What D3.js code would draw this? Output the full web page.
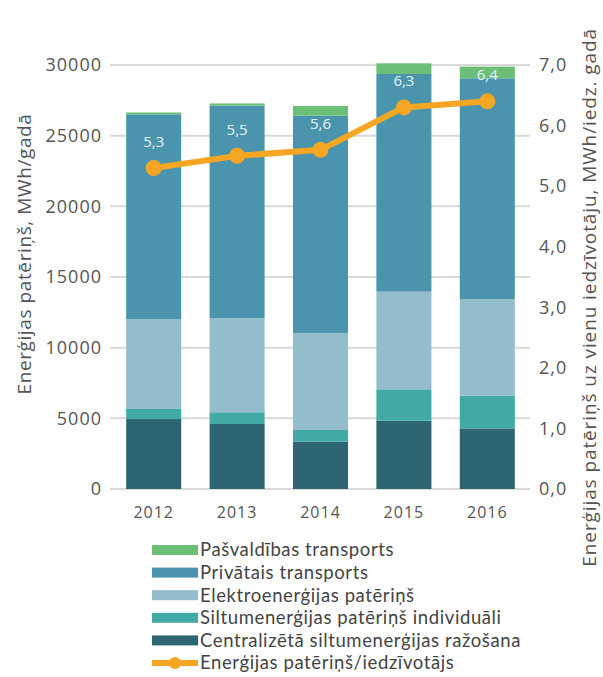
<!DOCTYPE html>
<html>
<head>
<meta charset="utf-8">
<script src="https://cdn.jsdelivr.net/npm/d3@7"></script>
<style>
  html, body { margin: 0; padding: 0; background: #fff; }
  svg { display: block; font-family: "Open Sans", "DejaVu Sans", sans-serif; }
</style>
</head>
<body>
<svg id="chart" width="603" height="677"></svg>
<script>
// Years on the category axis
const years = ["2012", "2013", "2014", "2015", "2016"];

// Stacked energy consumption components, MWh per year (bottom to top)
const centralizetaSiltum = [4950, 4600, 3350, 4835, 4290];
const siltumIndividuali  = [750, 830, 825, 2220, 2310];
const elektroenergija    = [6330, 6650, 6840, 6910, 6820];
const privataisTransp    = [14480, 15040, 15400, 15400, 15640];
const pasvaldibasTransp  = [130, 160, 690, 755, 825];

// Consumption per inhabitant, MWh per inhabitant per year
const perInhabitant = [5.3, 5.5, 5.6, 6.3, 6.4];

// Axis ticks
const leftTicks  = [0, 5000, 10000, 15000, 20000, 25000, 30000];
const rightTicks = [0, 1, 2, 3, 4, 5, 6, 7];

const seriesNames = [
  "Centralizētā siltumenerģijas ražošana",
  "Siltumenerģijas patēriņš individuāli",
  "Elektroenerģijas patēriņš",
  "Privātais transports",
  "Pašvaldības transports"
];
const seriesColors = ["#2d6672", "#41aaa4", "#93bdca", "#4a95ad", "#6cbf76"];
const lineName = "Enerģijas patēriņš/iedzīvotājs";
const lineColor = "#f5a623";

const svg = d3.select("#chart");

const plot = { left: 112, right: 529, top: 65, bottom: 489 };

const x = d3.scaleBand().domain(years).range([plot.left, plot.right]).paddingInner(0.34).paddingOuter(0.17);
const yL = d3.scaleLinear().domain([0, 30000]).range([plot.bottom, plot.top]);
const yR = d3.scaleLinear().domain([0, 7]).range([plot.bottom, plot.top]);

// Horizontal gridlines
svg.append("g")
  .selectAll("line")
  .data(leftTicks)
  .join("line")
  .attr("x1", 110).attr("x2", 530)
  .attr("y1", d => yL(d)).attr("y2", d => yL(d))
  .attr("stroke", "#d9d9d9").attr("stroke-width", 2);

// Left axis labels
const leftAxis = d3.axisLeft(yL).tickValues(leftTicks).tickSize(0).tickPadding(0).tickFormat(d3.format("d"));
const gL = svg.append("g").attr("transform", "translate(102,0)").call(leftAxis);
gL.select(".domain").remove();
gL.selectAll("text").attr("font-size", 18).attr("fill", "#555").attr("letter-spacing", "1px").attr("font-family", "Open Sans, sans-serif");

// Right axis labels
const rightAxis = d3.axisRight(yR).tickValues(rightTicks).tickSize(0).tickPadding(0).tickFormat(d => d3.format(".1f")(d).replace(".", ","));
const gR = svg.append("g").attr("transform", "translate(539,0)").call(rightAxis);
gR.select(".domain").remove();
gR.selectAll("text").attr("font-size", 18).attr("fill", "#555").attr("letter-spacing", "1px").attr("font-family", "Open Sans, sans-serif");

// Bottom axis labels
const bottomAxis = d3.axisBottom(x).tickSize(0).tickPadding(0);
const gB = svg.append("g").attr("transform", "translate(0,507)").call(bottomAxis);
gB.select(".domain").remove();
gB.selectAll("text").attr("font-size", 16).attr("fill", "#555").attr("letter-spacing", "1px").attr("font-family", "Open Sans, sans-serif");

// Stacked bars
const table = years.map((yr, i) => ({
  year: yr,
  s0: centralizetaSiltum[i],
  s1: siltumIndividuali[i],
  s2: elektroenergija[i],
  s3: privataisTransp[i],
  s4: pasvaldibasTransp[i]
}));
const stack = d3.stack().keys(["s0", "s1", "s2", "s3", "s4"]);
const layers = stack(table);

svg.append("g")
  .selectAll("g")
  .data(layers)
  .join("g")
  .attr("fill", (d, i) => seriesColors[i])
  .selectAll("rect")
  .data(d => d)
  .join("rect")
  .attr("x", d => x(d.data.year))
  .attr("width", x.bandwidth())
  .attr("y", d => yL(d[1]))
  .attr("height", d => yL(d[0]) - yL(d[1]));

// Per-inhabitant line with markers
const cx = d => x(d.year) + x.bandwidth() / 2;
const pts = years.map((yr, i) => ({ year: yr, v: perInhabitant[i] }));
svg.append("path")
  .datum(pts)
  .attr("fill", "none")
  .attr("stroke", lineColor)
  .attr("stroke-width", 6)
  .attr("stroke-linejoin", "round")
  .attr("d", d3.line().x(cx).y(d => yR(d.v)));
svg.append("g")
  .selectAll("circle")
  .data(pts)
  .join("circle")
  .attr("cx", cx)
  .attr("cy", d => yR(d.v))
  .attr("r", 8)
  .attr("fill", lineColor);

// Value labels above markers
svg.append("g")
  .selectAll("text")
  .data(pts)
  .join("text")
  .attr("x", cx)
  .attr("y", d => yR(d.v) - 21)
  .attr("text-anchor", "middle")
  .attr("font-size", 15)
  .attr("fill", "#e8f2f5")
  .text(d => d3.format(".1f")(d.v).replace(".", ","));

// Axis titles
svg.append("text")
  .attr("transform", "translate(31,254) rotate(-90)")
  .attr("text-anchor", "middle")
  .attr("font-size", 19)
  .attr("letter-spacing", "0.6px")
  .attr("fill", "#555")
  .text("Enerģijas patēriņš, MWh/gadā");

svg.append("text")
  .attr("transform", "translate(596,28) rotate(-90)")
  .attr("text-anchor", "end")
  .attr("font-size", 19)
  .attr("letter-spacing", "0.9px")
  .attr("fill", "#555")
  .text("Enerģijas patēriņš uz vienu iedzīvotāju, MWh/iedz. gadā");

// Legend
const legendItems = [
  { name: seriesNames[4], color: seriesColors[4], type: "bar" },
  { name: seriesNames[3], color: seriesColors[3], type: "bar" },
  { name: seriesNames[2], color: seriesColors[2], type: "bar" },
  { name: seriesNames[1], color: seriesColors[1], type: "bar" },
  { name: seriesNames[0], color: seriesColors[0], type: "bar" },
  { name: lineName, color: lineColor, type: "line" }
];
const lg = svg.append("g");
const row = lg.selectAll("g")
  .data(legendItems)
  .join("g")
  .attr("transform", (d, i) => `translate(152,${550 + i * 22.6})`);
row.filter(d => d.type === "bar").append("rect")
  .attr("x", 0).attr("y", -5).attr("width", 46).attr("height", 10)
  .attr("fill", d => d.color);
row.filter(d => d.type === "line").append("line")
  .attr("x1", 0).attr("x2", 46).attr("y1", 0).attr("y2", 0)
  .attr("stroke", d => d.color).attr("stroke-width", 6);
row.filter(d => d.type === "line").append("circle")
  .attr("cx", 23).attr("cy", 0).attr("r", 6)
  .attr("fill", d => d.color);
row.append("text")
  .attr("x", 48).attr("y", 0).attr("dy", "0.35em")
  .attr("font-family", "Lato, sans-serif")
  .attr("font-size", 18.5)
  .attr("letter-spacing", "0.6px")
  .attr("fill", "#444")
  .text(d => d.name);
</script>
</body>
</html>
